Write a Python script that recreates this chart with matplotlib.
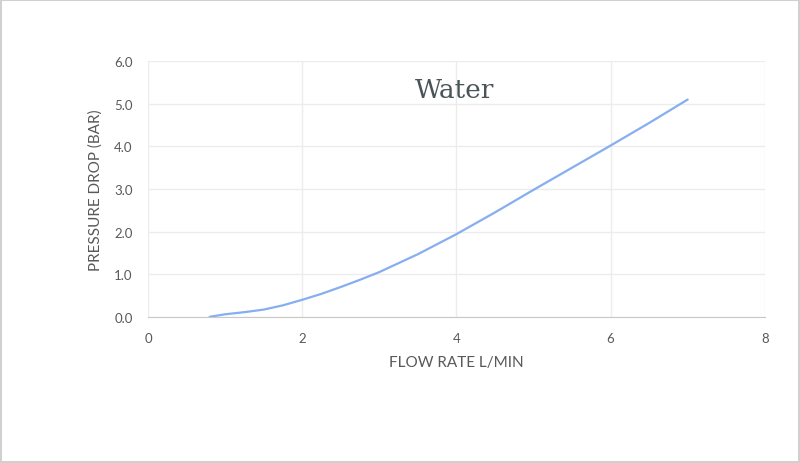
import matplotlib
matplotlib.use("Agg")
import matplotlib.pyplot as plt

# flow rate (L/min) vs pressure drop (bar)
flow = [0.8, 1.0, 1.25, 1.5, 1.75, 2.0, 2.25, 2.5, 2.75, 3.0, 3.5, 4.0, 4.5, 5.0, 5.5, 6.0, 6.5, 7.0]
pressure = [0.0, 0.06, 0.11, 0.17, 0.27, 0.40, 0.54, 0.70, 0.87, 1.05, 1.47, 1.94, 2.45, 2.98, 3.50, 4.02, 4.55, 5.10]

x_ticks = [0, 2, 4, 6, 8]
y_ticks = [0.0, 1.0, 2.0, 3.0, 4.0, 5.0, 6.0]

plt.rcParams['font.family'] = ['Lato', 'DejaVu Sans']
grey = '#595959'

fig = plt.figure(figsize=(8, 4.64), dpi=100)
fig.patch.set_edgecolor('#d0d0d0')
fig.patch.set_linewidth(1.5)
ax = fig.add_axes([0.185, 0.315, 0.771, 0.551])

ax.plot(flow, pressure, color='#86aef0', linewidth=1.6,
        solid_capstyle='round', solid_joinstyle='round')

ax.set_xlim(0, 8)
ax.set_ylim(0, 6)
ax.set_xticks(x_ticks)
ax.set_yticks(y_ticks)
ax.set_yticklabels(['%.1f' % v for v in y_ticks])
ax.grid(True, color='#ececec', linewidth=1)
ax.set_axisbelow(True)
for s in ['top', 'right', 'left']:
    ax.spines[s].set_visible(False)
ax.spines['bottom'].set_color('#c8c8c8')
ax.tick_params(length=0, labelsize=9.5, labelcolor=grey)
ax.tick_params(axis='x', pad=11)
ax.tick_params(axis='y', pad=11)

ax.set_xlabel('FLOW RATE L/MIN', fontsize=11, color=grey, labelpad=8)
ax.set_ylabel('PRESSURE DROP (BAR)', fontsize=11, color=grey, labelpad=8)

ax.text(0.497, 0.89, 'Water', transform=ax.transAxes, ha='center', va='center',
        fontsize=19, color='#4a5559', family=['DejaVu Serif'])

fig.savefig('out.png', dpi=100, edgecolor=fig.get_edgecolor())
